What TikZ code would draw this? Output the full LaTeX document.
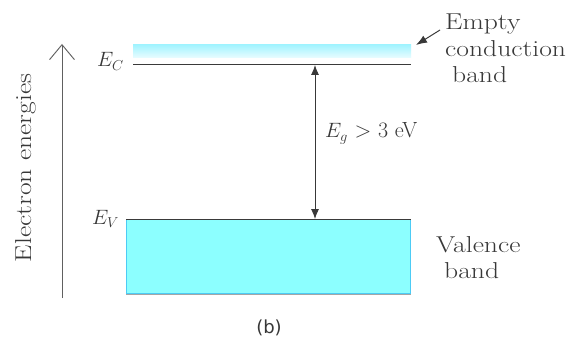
\documentclass[tikz,border=0pt]{standalone}
\usepackage{fontspec}
\newfontfamily\labfont{DejaVu Sans}
\usetikzlibrary{arrows.meta}
\definecolor{txt}{HTML}{383838}
\definecolor{linec}{HTML}{3A3A3A}
\definecolor{vfill}{HTML}{8CFFFF}
\definecolor{vbord}{HTML}{4CCBF5}
\definecolor{ctop}{HTML}{9FF3FF}
\definecolor{cbot}{HTML}{E6FCFF}
\newcommand{\widetxt}[1]{\scalebox{1.2}[1]{#1}}
\begin{document}
\begin{tikzpicture}[x=1pt,y=-1pt,
  every node/.style={text=txt, inner sep=0pt},
  lbl/.style={font=\fontsize{23}{27}\selectfont},
  mlbl/.style={font=\fontsize{22}{26}\selectfont},
  thinline/.style={draw=linec, line width=1pt},
  gapline/.style={draw=txt, line width=0.9pt, {Latex[length=10pt,width=8pt]}-{Latex[length=10pt,width=8pt]}},
  axisline/.style={draw=txt!80, line width=0.9pt, -{Straight Barb[length=15pt,width=25pt,line width=0.9pt]}},
  ptr/.style={draw=txt, line width=1pt, -{Latex[length=11pt,width=8pt]}}]
\useasboundingbox (0,0) rectangle (572,339);
\fill[white] (0,0) rectangle (572,339);

% conduction band strip
\node[minimum width=278pt, minimum height=13pt, anchor=north west,
      top color=ctop, bottom color=cbot, draw=none] (cband) at (133,44) {};
\coordinate (ecL) at (133,65);
\coordinate (ecR) at (411,65);
\draw[thinline] (ecL) -- (ecR);

% valence band
\node[minimum width=284pt, minimum height=74pt, anchor=north west,
      fill=vfill, draw=vbord, line width=1pt] (vband) at (126,219) {};
\coordinate (evL) at (126,219);
\coordinate (evR) at (411,219);
\draw[thinline] (evL) -- (evR);
\coordinate (vbL) at (126,294.5);
\coordinate (vbR) at (411,294.5);
\draw[draw=gray!70, line width=1.2pt] (vbL) -- (vbR);

% gap arrow
\coordinate (gT) at (315,65);
\coordinate (gB) at (315,219);
\draw[gapline] (gT) -- (gB);

% energy axis
\coordinate (axB) at (62,298);
\coordinate (axT) at (62,44);
\draw[axisline] (axB) -- (axT);

% pointer to conduction band
\coordinate (paS) at (440,30);
\coordinate (paE) at (416,45);
\draw[ptr] (paS) -- (paE);

% labels
\node[lbl, anchor=base west] (t1) at (445,30) {\widetxt{Empty}};
\node[lbl, anchor=base west] (t2) at (445,57) {\widetxt{conduction}};
\node[lbl, anchor=base west] (t3) at (452,83) {\widetxt{band}};
\node[lbl, anchor=base west] (v1) at (436,252) {\widetxt{Valence}};
\node[lbl, anchor=base west] (v2) at (444,278) {\widetxt{band}};
\node[mlbl, anchor=base west] (eg) at (325,138) {$E_g$ > 3 eV};
\node[mlbl, anchor=base west] (ec) at (97,67) {$E_C$};
\node[mlbl, anchor=base west] (ev) at (92,224) {$E_V$};
\node[lbl, rotate=90, anchor=base] (ee) at (31,168) {\widetxt{Electron energies}};
\node[font=\labfont\fontsize{18}{21}\selectfont, anchor=base] (b) at (269,333) {(b)};
\end{tikzpicture}
\end{document}
